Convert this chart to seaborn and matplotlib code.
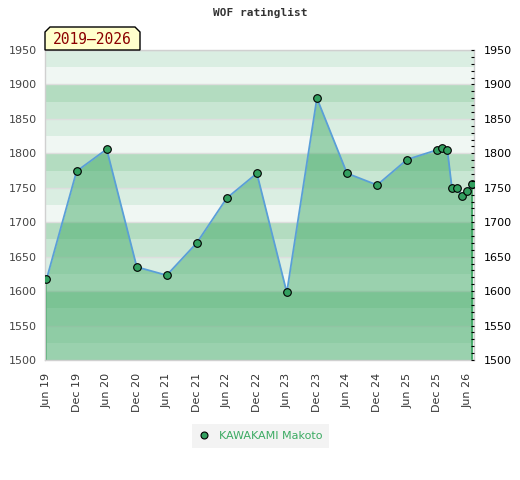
import matplotlib
matplotlib.use("Agg")
import matplotlib.pyplot as plt
import matplotlib.dates as mdates
from matplotlib.patches import Polygon
from matplotlib.lines import Line2D
import seaborn as sns
import pandas as pd
import numpy as np

# ---- data ----
dates = ["2019-06-01", "2019-12-01", "2020-06-01", "2020-12-01", "2021-06-01",
         "2021-12-01", "2022-06-01", "2022-12-01", "2023-06-01", "2023-12-01",
         "2024-06-01", "2024-12-01", "2025-06-01", "2025-12-01", "2026-01-01",
         "2026-02-01", "2026-03-01", "2026-04-01", "2026-05-01", "2026-06-01",
         "2026-07-01"]
ratings = [1617, 1774, 1806, 1635, 1623, 1670, 1735, 1771, 1598, 1880,
           1771, 1754, 1791, 1805, 1808, 1805, 1749, 1749, 1738, 1746, 1755]
player = "KAWAKAMI Makoto"
period_label = "2019\u20132026"
title = "WOF ratinglist"
tick_dates = ["2019-06-01", "2019-12-01", "2020-06-01", "2020-12-01", "2021-06-01",
              "2021-12-01", "2022-06-01", "2022-12-01", "2023-06-01", "2023-12-01",
              "2024-06-01", "2024-12-01", "2025-06-01", "2025-12-01", "2026-06-01"]
tick_labels = ["Jun 19", "Dec 19", "Jun 20", "Dec 20", "Jun 21", "Dec 21", "Jun 22",
               "Dec 22", "Jun 23", "Dec 23", "Jun 24", "Dec 24", "Jun 25", "Dec 25",
               "Jun 26"]
y_min, y_max = 1500, 1950
band_colors = ["#f0f7f3", "#daeee2", "#c8e6d3", "#b3dcc0"]

df = pd.DataFrame({"date": pd.to_datetime(dates), "rating": ratings})

sns.set_style("white")
plt.rcParams["font.family"] = ["DejaVu Sans"]

fig = plt.figure(figsize=(5.2, 4.8), dpi=100)
ax = fig.add_axes([45 / 520, 1 - 360 / 480, (474 - 45) / 520, (360 - 50) / 480])

# background bands
for lo in range(y_min, y_max, 25):
    q = (lo % 100) // 25
    ax.axhspan(lo, lo + 25, color=band_colors[q], lw=0, zorder=0)
for g in range(y_min, y_max + 1, 50):
    ax.axhline(g, color="#dedede", lw=1, zorder=0.5)

x = df["date"]
ax.fill_between(x, df["rating"], y_min, color="#45ac6a", alpha=0.5, lw=0, zorder=1)
ax.plot([x.iloc[0], x.iloc[0]], [y_min, df["rating"].iloc[0]], color="#3aa35f", lw=1.2, zorder=1.5)
ax.plot([x.iloc[-1], x.iloc[-1]], [y_min, df["rating"].iloc[-1]], color="#3aa35f", lw=1.2, zorder=1.5)

sns.lineplot(data=df, x="date", y="rating", ax=ax, color="#5a9fd8", lw=1.3,
             marker="o", markersize=5.5, markerfacecolor="#33a060",
             markeredgecolor="black", markeredgewidth=0.8, zorder=3, legend=False)

ax.set_ylim(y_min, y_max)
ax.set_xlim(pd.Timestamp("2019-05-23"), pd.Timestamp("2026-07-13"))
ax.set_xlabel("")
ax.set_ylabel("")
ax.set_xticks(pd.to_datetime(tick_dates))
ax.set_xticklabels(tick_labels, rotation=90, fontsize=8, color="#333333")
ax.set_yticks(range(y_min, y_max + 1, 50))
ax.tick_params(axis="y", length=0, pad=6, labelsize=8, labelcolor="#444444")
ax.tick_params(axis="x", length=0, pad=9)
for s in ax.spines.values():
    s.set_color("#d0d0d0")
    s.set_linewidth(1)

ax2 = ax.twinx()
ax2.set_ylim(y_min, y_max)
ax2.set_yticks(range(y_min, y_max + 1, 50))
ax2.set_yticks(range(y_min, y_max + 1, 10), minor=True)
ax2.tick_params(axis="y", which="both", direction="in", length=2.5, width=0.8,
                color="black", pad=7, labelsize=8, labelcolor="black")
for s in ax2.spines.values():
    s.set_visible(False)

# title
fig.text(0.5, 1 - 13 / 480, title, ha="center", va="center",
         fontsize=8, fontweight="bold", family="DejaVu Sans Mono", color="#333333")

# period tag with chamfered top corners
pts = [(45, 50), (45, 32), (50, 27), (135, 27), (140, 32), (140, 50)]
poly = Polygon([(px / 520, 1 - py / 480) for px, py in pts], closed=True,
               transform=fig.transFigure, facecolor="#ffffcc", edgecolor="black",
               lw=1, zorder=5)
fig.add_artist(poly)
fig.text(92.5 / 520, 1 - 40 / 480, period_label, ha="center", va="center",
         fontsize=10.5, family="DejaVu Sans Mono", color="#8b0000", zorder=6)

# legend
handle = Line2D([], [], ls="none", marker="o", markersize=5, markerfacecolor="#33a060",
                markeredgecolor="black", markeredgewidth=0.8)
leg = fig.legend([handle], [player], loc="center", bbox_to_anchor=(260.5 / 520, 1 - 436 / 480),
                 frameon=True, fontsize=8, labelcolor="#3cab63", handlelength=1,
                 handletextpad=0.8, borderpad=0.6, fancybox=False)
leg.get_frame().set_facecolor("#f0f0f0")
leg.get_frame().set_edgecolor("none")

fig.savefig("out.png", dpi=100)
